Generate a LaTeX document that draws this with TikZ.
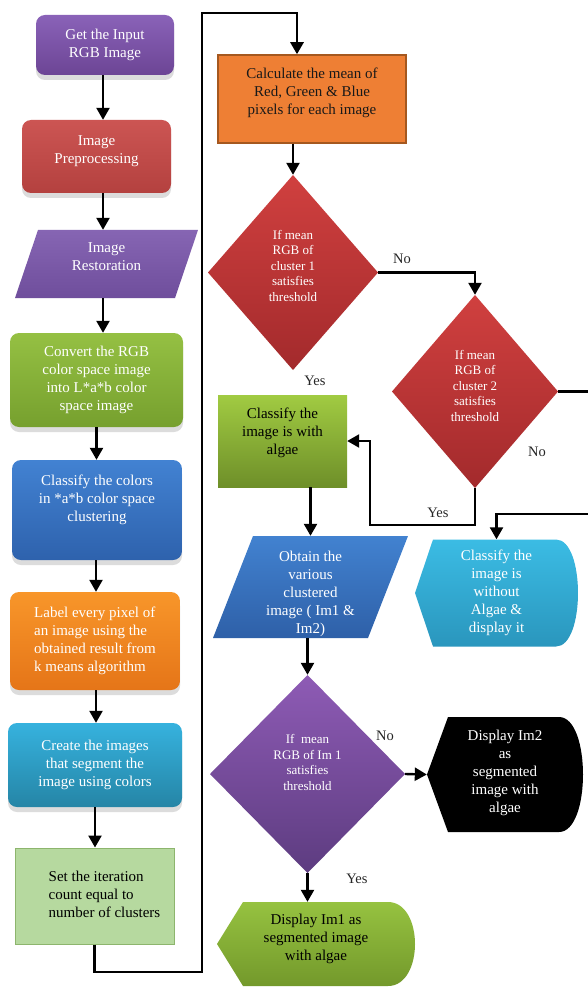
\documentclass[tikz,border=0pt]{standalone}
\usepackage{fontspec}
\setmainfont{Liberation Serif}
\usetikzlibrary{arrows.meta,shadows,calc}
\definecolor{pAt}{HTML}{8A62B8}\definecolor{pAb}{HTML}{6C4595}
\definecolor{rBt}{HTML}{CC5553}\definecolor{rBb}{HTML}{B4413F}
\definecolor{pCt}{HTML}{8665B3}\definecolor{pCb}{HTML}{6F4E9C}
\definecolor{gDt}{HTML}{95C043}\definecolor{gDb}{HTML}{76A02E}
\definecolor{bEt}{HTML}{4282D2}\definecolor{bEb}{HTML}{2E62AD}
\definecolor{oFt}{HTML}{F8962A}\definecolor{oFb}{HTML}{E57518}
\definecolor{cGt}{HTML}{36B2DE}\definecolor{cGb}{HTML}{2585A6}
\definecolor{gHf}{HTML}{B6D99F}\definecolor{gHd}{HTML}{8DB56D}
\definecolor{oIf}{HTML}{EE7F34}\definecolor{oId}{HTML}{A5581F}
\definecolor{dRt}{HTML}{D0403F}\definecolor{dRb}{HTML}{A32A2C}
\definecolor{gKt}{HTML}{A1CB42}\definecolor{gKb}{HTML}{6E8F29}
\definecolor{bLt}{HTML}{4282D0}\definecolor{bLb}{HTML}{2E60A8}
\definecolor{pMt}{HTML}{8E5BB5}\definecolor{pMb}{HTML}{5D3C80}
\definecolor{gNt}{HTML}{96C240}\definecolor{gNb}{HTML}{73992B}
\definecolor{cOt}{HTML}{3BBCE4}\definecolor{cOb}{HTML}{2A96BD}
\tikzset{
  base/.style={inner sep=2pt, font=\fontsize{15}{18}\selectfont, align=center, text=white},
  shd/.style={drop shadow={shadow xshift=0pt,shadow yshift=-5pt,fill=black!30,opacity=.45}},
  rbox/.style 2 args={base, rounded corners=9pt, top color=#1, bottom color=#2, shd},
  diam/.style 2 args={base, font=\fontsize{13}{15.5}\selectfont,
    path picture={\shade[top color=#1,bottom color=#2]
      (path picture bounding box.north) -- (path picture bounding box.east) --
      (path picture bounding box.south) -- (path picture bounding box.west) -- cycle;}},
  para/.style n args={3}{base,
    path picture={\shade[top color=#1,bottom color=#2]
      ([xshift=#3]path picture bounding box.north west) -- (path picture bounding box.north east) --
      ([xshift=-#3]path picture bounding box.south east) -- (path picture bounding box.south west) -- cycle;}},
  disp/.style n args={4}{base,
    path picture={\shade[top color=#1,bottom color=#2]
      ([xshift=#3]path picture bounding box.north west) -- ([xshift=-#4]path picture bounding box.north east)
      .. controls ([xshift=#4/3]path picture bounding box.north east) and ([xshift=#4/3]path picture bounding box.south east) ..
      ([xshift=-#4]path picture bounding box.south east) -- ([xshift=#3]path picture bounding box.south west) --
      (path picture bounding box.west) -- cycle;}},
  arr/.style={line width=2.4pt, -{Triangle[width=13pt,length=12pt]}},
  lbl/.style={font=\fontsize{14.5}{17}\selectfont, text=black!85, inner sep=0pt}
}
\begin{document}
\begin{tikzpicture}[x=1pt,y=-1pt]
\useasboundingbox (0,0) rectangle (588,992);
\fill[white] (0,0) rectangle (588,992);

% left column
\node[rbox={pAt}{pAb}, minimum width=138pt, minimum height=60pt] (n1) at (105,45) {Get the Input\\RGB Image};
\node[rbox={rBt}{rBb}, minimum width=149pt, minimum height=73pt] (n2) at (96.5,156.5) {Image\\Preprocessing\\[-4pt]};
\node[para={pCt}{pCb}{23pt}, minimum width=183pt, minimum height=68pt] (n3) at (106.5,264) {Image\\Restoration\\[-4pt]};
\node[rbox={gDt}{gDb}, minimum width=173pt, minimum height=94pt] (n4) at (96.5,380) {Convert the RGB\\color space image\\into L*a*b color\\space image};
\node[rbox={bEt}{bEb}, minimum width=170pt, minimum height=100pt] (n5) at (97,510) {Classify the colors\\in *a*b color space\\clustering\\[6pt]};
\node[rbox={oFt}{oFb}, minimum width=170pt, minimum height=98pt, align=left] (n6) at (95,641) {Label every pixel of\\an image using the\\obtained result from\\k means algorithm};
\node[rbox={cGt}{cGb}, minimum width=174pt, minimum height=84pt] (n7) at (95,765) {Create the images\\that segment the\\image using colors};
\node[base, fill=gHf, draw=gHd, line width=1pt, text=black, minimum width=159pt, minimum height=96pt] (n8) at (94.5,896)
  {\hspace*{20pt}\begin{tabular}{@{}l@{}}Set the iteration\\count equal to\\number of clusters\end{tabular}};

% right column
\node[base, fill=oIf, draw=oId, line width=1.5pt, text=black!90, minimum width=188pt, minimum height=88pt] (n9) at (312,99)
  {Calculate the mean of\\Red, Green \& Blue\\pixels for each image\\[-2pt]};
\node[diam={dRt}{dRb}, minimum width=170pt, minimum height=195pt] (d1) at (293,272.5) {If mean\\RGB of\\cluster 1\\satisfies\\threshold\\[-2pt]};
\node[diam={dRt}{dRb}, minimum width=166pt, minimum height=193pt] (d2) at (475,391.5) {If mean\\RGB of\\cluster 2\\satisfies\\threshold\\[-4pt]};
\node[base, text=black, top color=gKt, bottom color=gKb, minimum width=129pt, minimum height=92pt] (n12) at (282.5,441) {Classify the\\image is with\\algae\\[2pt]};
\node[para={bLt}{bLb}{40pt}, minimum width=195pt, minimum height=102pt] (n13) at (310.5,587) {Obtain the\\various\\clustered\\image ( Im1 \&\\Im2)\\[-28pt]};
\node[disp={cOt}{cOb}{18pt}{22pt}, minimum width=163pt, minimum height=107pt] (n18) at (496.5,593) {Classify the\\image is\\without\\Algae \&\\display it};
\node[diam={pMt}{pMb}, minimum width=195pt, minimum height=198pt] (d3) at (307.5,774) {If\ \ mean\\RGB of Im 1\\satisfies\\threshold\\[8pt]};
\node[disp={black}{black}{21pt}{24pt}, minimum width=156pt, minimum height=115pt] (n15) at (505,774.5) {Display Im2\\as\\segmented\\image with\\algae\\[-12pt]};
\node[disp={gNt}{gNb}{26pt}{27pt}, text=black, minimum width=198pt, minimum height=84pt] (n17) at (316,944) {Display Im1 as\\segmented image\\with algae\\[-4pt]};

% labels
\node[lbl] (l1) at (402,259) {No};
\node[lbl] (l2) at (315,381) {Yes};
\node[lbl] (l3) at (537,452) {No};
\node[lbl] (l4) at (438,513) {Yes};
\node[lbl] (l5) at (385,736) {No};
\node[lbl] (l6) at (357,879) {Yes};

% left column arrows
\draw[arr] ([xshift=-2pt]n1.south) -- ([xshift=-2pt]n1.south |- n2.north);
\draw[arr] ([xshift=6.5pt]n2.south) -- ([xshift=6.5pt]n2.south |- n3.north);
\draw[arr] ([xshift=-3.5pt]n3.south) -- ([xshift=-3.5pt]n3.south |- n4.north);
\draw[arr] (n4.south) -- (n4.south |- n5.north);
\draw[arr] ([xshift=-1pt]n5.south) -- ([xshift=-1pt]n5.south |- n6.north);
\draw[arr] ([xshift=1pt]n6.south) -- ([xshift=1pt]n6.south |- n7.north);
\draw[arr] (n7.south) -- (n7.south |- n8.north);

% loop to the right column
\coordinate (lb) at (202,972);
\coordinate (lt) at (202,13);
\draw[arr, line width=2.7pt] (n8.south) |- (lb) -- (lt) -| ([xshift=-15pt]n9.north);

% right column arrows
\draw[arr] ([xshift=-19pt]n9.south) -- (d1.north);
\draw[arr] (d1.east) -| (d2.north);
\begin{scope}
\clip (0,0) rectangle (588,992);
\coordinate (oa) at (600,391.5);
\coordinate (ob) at (600,514);
\draw[arr] (d2.east) -- (oa) -- (ob) -| (n18.north);
\end{scope}
\draw[arr] (d2.south) -- ++(0,36.5) -| ([xshift=23pt]n12.east) -- (n12.east);
\draw[arr] (n12.south -| n13.north) -- (n13.north);
\draw[arr] (n13.south -| d3.north) -- (d3.north);
\draw[arr] (d3.east) -- (n15.west);
\draw[arr] (d3.south) -- (d3.south |- n17.north);
\end{tikzpicture}
\end{document}
